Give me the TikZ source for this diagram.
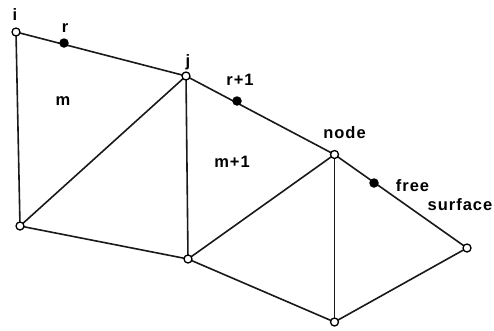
\documentclass[tikz,border=0pt]{standalone}
\usepackage{fontspec}
\setmainfont{Liberation Sans}
\begin{document}
\begin{tikzpicture}[x=1pt,y=-1pt,
  mesh/.style={line width=1.6pt,black!90},
  open/.style={circle,draw=black,line width=1.3pt,fill=white,inner sep=0pt,minimum size=8pt},
  solid dot/.style={circle,fill=black,inner sep=0pt,minimum size=9.5pt},
  lab/.style={inner sep=0pt,font=\fontsize{16.5}{18}\selectfont\addfontfeature{LetterSpace=6}\bfseries}]
\useasboundingbox (0,0) rectangle (494,330);
\fill[white] (0,0) rectangle (494,330);
\coordinate (ni) at (16,32);
\coordinate (nj) at (186,76);
\coordinate (nk) at (334.5,154.5);
\coordinate (nr) at (467,248);
\coordinate (nb) at (334.5,322);
\coordinate (nm) at (188,259);
\coordinate (nl) at (20,226);
\draw[mesh] (ni) -- (nj);
\draw[mesh] (nj) -- (nk);
\draw[mesh] (nk) -- (nr);
\draw[mesh] (nr) -- (nb);
\draw[mesh] (nb) -- (nm);
\draw[mesh] (nm) -- (nl);
\draw[mesh] (nl) -- (ni);
\draw[mesh] (nl) -- (nj);
\draw[mesh] (nj) -- (nm);
\draw[mesh] (nm) -- (nk);
\draw[mesh] (nk) -- (nb);
\foreach \p in {ni,nj,nk,nr,nb,nm,nl} \node[open] (o\p) at (\p) {};
\node[solid dot] (r1) at (64,43) {};
\node[solid dot] (r2) at (237,101) {};
\node[solid dot] (r3) at (374,183) {};
\node[lab] (ti) at (15,15) {i};
\node[lab] (tr) at (65,28) {r};
\node[lab] (tj) at (188,62) {j};
\node[lab] (tr1) at (240,80) {r+1};
\node[lab] (tm) at (63,101) {m};
\node[lab] (tm1) at (232,162) {m+1};
\node[lab] (tn) at (344.5,133) {node};
\node[lab] (tf) at (412.5,186) {free};
\node[lab] (ts) at (460,205) {surface};
\end{tikzpicture}
\end{document}
